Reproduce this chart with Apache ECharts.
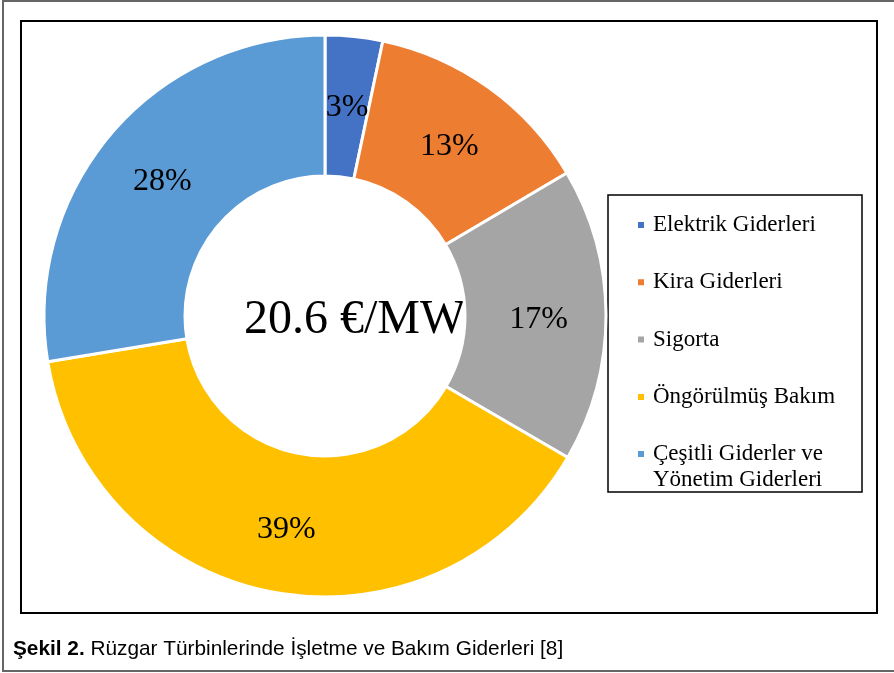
<!DOCTYPE html>
<html>
<head>
<meta charset="utf-8">
<script src="https://cdn.jsdelivr.net/npm/echarts@6/dist/echarts.min.js"></script>
<style>
html,body{margin:0;padding:0;background:#fff;}
#main{width:894px;height:673px;}
</style>
</head>
<body>
<div id="main"></div>
<script>
const categories = ['Elektrik Giderleri', 'Kira Giderleri', 'Sigorta', 'Öngörülmüş Bakım', 'Çeşitli Giderler ve\nYönetim Giderleri'];
const shares = [3.3, 13.2, 16.9, 39.0, 27.6];
const colors = ['#4472C4', '#ED7D31', '#A5A5A5', '#FFC000', '#5B9BD5'];
const centerText = '20.6 €/MW';
const captionBold = 'Şekil 2.';
const captionRest = ' Rüzgar Türbinlerinde İşletme ve Bakım Giderleri [8]';

const serif = '"Liberation Serif", "Times New Roman", serif';
const sans = '"Liberation Sans", Arial, sans-serif';

const legendFont = 23;
const legendLH = 26;
const legendText = {fontFamily: serif, fontSize: legendFont, color: '#000', lineHeight: legendLH, padding: [0, 0, 0, 3]};

const chart = echarts.init(document.getElementById('main'), null, {renderer: 'canvas'});
chart.setOption({
  animation: false,
  backgroundColor: '#fff',
  color: colors,
  legend: [{
    orient: 'vertical',
    left: 636,
    top: 212,
    itemWidth: 8,
    itemHeight: 8,
    itemGap: 57.3 - legendLH,
    icon: 'rect',
    padding: 0,
    data: categories.slice(0, 4),
    textStyle: legendText
  }, {
    orient: 'vertical',
    left: 636,
    top: 454 - 1.5 * legendLH,
    itemWidth: 8,
    itemHeight: 8,
    icon: 'rect',
    padding: 0,
    data: categories.slice(4),
    formatter: n => '\n' + n,
    textStyle: legendText
  }],
  graphic: [
    {type: 'rect', shape: {x: 3, y: 1, width: 900, height: 670}, style: {fill: 'none', stroke: '#666', lineWidth: 2}, z: 0},
    {type: 'rect', shape: {x: 21, y: 21, width: 856, height: 592}, style: {fill: 'none', stroke: '#000', lineWidth: 2}, z: 0},
    {type: 'rect', shape: {x: 608, y: 195, width: 254, height: 297}, style: {fill: 'none', stroke: '#000', lineWidth: 1.5}, z: 0},
    {type: 'text', left: 244, top: 296, style: {text: centerText, font: '48px ' + serif, fill: '#000'}},
    {type: 'text', left: 13, top: 639, style: {
      text: '{b|' + captionBold + '}{n|' + captionRest + '}',
      rich: {
        b: {fontFamily: sans, fontWeight: 'bold', fontSize: 20.8, color: '#222'},
        n: {fontFamily: sans, fontSize: 20.8, color: '#222'}
      }
    }}
  ],
  series: [{
    type: 'pie',
    center: [325, 316],
    radius: [140, 281],
    startAngle: 90,
    clockwise: true,
    avoidLabelOverlap: false,
    itemStyle: {borderColor: '#fff', borderWidth: 3},
    label: {position: 'inside', formatter: p => Math.round(p.value) + '%', fontFamily: serif, fontSize: 32, color: '#000', offset: [0, 4]},
    labelLine: {show: false},
    emphasis: {disabled: true},
    data: categories.map((n, i) => ({name: n, value: shares[i]}))
  }]
});
</script>
</body>
</html>
